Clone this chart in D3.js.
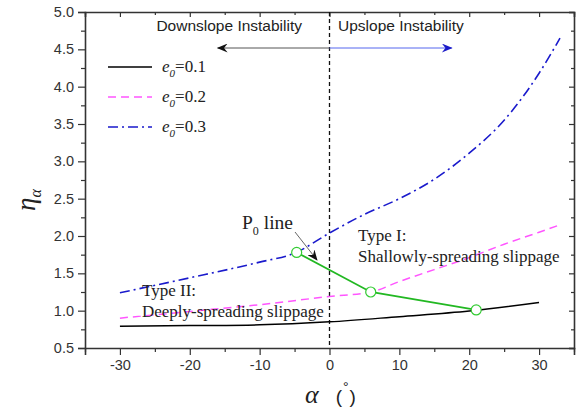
<!DOCTYPE html>
<html>
<head>
<meta charset="utf-8">
<script src="https://cdn.jsdelivr.net/npm/d3@7"></script>
<style>
  body { margin: 0; background: #fff; }
  svg { display: block; }
  .tick text { font-family: "Liberation Sans", Arial, sans-serif; font-size: 14.5px; fill: #333; }
</style>
</head>
<body>
<div id="chart"></div>
<script>
var width = 581;
var height = 411;
var margin = {top: 12, right: 7, bottom: 63, left: 85};

// curves
var alphaE01 = [-30, -20, -10, 0, 10, 20, 30];
var etaE01 = [0.79, 0.80, 0.81, 0.85, 0.92, 0.995, 1.11];

var alphaE02 = [-30, -20, -10, 0, 6, 10, 15, 20, 25, 30, 33];
var etaE02 = [0.90, 0.99, 1.08, 1.19, 1.25, 1.39, 1.55, 1.71, 1.89, 2.05, 2.15];

var alphaE03 = [-30, -20, -10, -5, 0, 5, 10, 15, 20, 25, 30, 33];
var etaE03 = [1.24, 1.44, 1.65, 1.77, 2.04, 2.29, 2.50, 2.76, 3.11, 3.55, 4.18, 4.65];

// P0 line
var alphaP0 = [-4.7, 5.9, 21];
var etaP0 = [1.78, 1.25, 1.01];

var xTicks = [-30, -20, -10, 0, 10, 20, 30];
var yTicks = [0.5, 1.0, 1.5, 2.0, 2.5, 3.0, 3.5, 4.0, 4.5, 5.0];

var legendLabels = ["0.1", "0.2", "0.3"];

var svg = d3.select("#chart").append("svg")
  .attr("width", width)
  .attr("height", height);

var x = d3.scaleLinear().domain([-35, 35]).range([margin.left, width - margin.right]);
var y = d3.scaleLinear().domain([0.5, 5.0]).range([height - margin.bottom, margin.top]);

var x0 = x.range()[0], x1 = x.range()[1];
var y0 = y.range()[0], y1 = y.range()[1];

var serif = "'Liberation Serif', 'Times New Roman', serif";
var sans = "'Liberation Sans', Arial, sans-serif";

// axes - major ticks out on bottom/left, in on top/right
var xMinor = d3.range(-35, 36, 5).filter(function(d) { return d % 10 != 0; });
var yMinor = d3.range(0.75, 5.0, 0.5);

svg.append("g").attr("transform", "translate(0," + y0 + ")")
  .call(d3.axisBottom(x).tickValues(xTicks).tickFormat(function(d) { return String(d); }).tickSize(7).tickPadding(5));
svg.append("g").attr("transform", "translate(0," + y0 + ")")
  .call(d3.axisBottom(x).tickValues(xMinor).tickFormat("").tickSize(4))
  .select(".domain").remove();

svg.append("g").attr("transform", "translate(" + x0 + ",0)")
  .call(d3.axisLeft(y).tickValues(yTicks).tickFormat(d3.format(".1f")).tickSize(7).tickPadding(4));
svg.append("g").attr("transform", "translate(" + x0 + ",0)")
  .call(d3.axisLeft(y).tickValues(yMinor).tickFormat("").tickSize(4))
  .select(".domain").remove();

svg.append("g").attr("transform", "translate(0," + y1 + ")")
  .call(d3.axisBottom(x).tickValues(xTicks).tickFormat("").tickSize(5));
svg.append("g").attr("transform", "translate(0," + y1 + ")")
  .call(d3.axisBottom(x).tickValues(xMinor).tickFormat("").tickSize(3))
  .select(".domain").remove();

svg.append("g").attr("transform", "translate(" + x1 + ",0)")
  .call(d3.axisLeft(y).tickValues(yTicks).tickFormat("").tickSize(5));
svg.append("g").attr("transform", "translate(" + x1 + ",0)")
  .call(d3.axisLeft(y).tickValues(yMinor).tickFormat("").tickSize(3))
  .select(".domain").remove();

svg.selectAll(".domain").attr("stroke", "#333").attr("stroke-width", 1.6);
svg.selectAll(".tick line").attr("stroke", "#333").attr("stroke-width", 1.2);

// vertical dashed line at 0
svg.append("line")
  .attr("x1", x(0)).attr("x2", x(0))
  .attr("y1", y1).attr("y2", y0)
  .attr("stroke", "#111").attr("stroke-width", 1.3)
  .attr("stroke-dasharray", "4,3");

// arrows
var defs = svg.append("defs");
function arrowHead(id, color) {
  defs.append("marker")
    .attr("id", id)
    .attr("viewBox", "0 0 12 10")
    .attr("refX", 11).attr("refY", 5)
    .attr("markerWidth", 12).attr("markerHeight", 9)
    .attr("markerUnits", "userSpaceOnUse")
    .attr("orient", "auto")
    .append("path")
    .attr("d", "M0,0 L12,5 L0,10 L4,5 Z")
    .attr("fill", color);
}
arrowHead("headBlack", "#111");
arrowHead("headBlue", "#1a1ac8");
arrowHead("headSmall", "#111");

var arrowY = 48;
svg.append("line")
  .attr("x1", x(0)).attr("x2", x(-16))
  .attr("y1", arrowY).attr("y2", arrowY)
  .attr("stroke", "#555").attr("stroke-width", 1)
  .attr("marker-end", "url(#headBlack)");
svg.append("line")
  .attr("x1", x(0)).attr("x2", x(17.5))
  .attr("y1", arrowY).attr("y2", arrowY)
  .attr("stroke", "#5566ee").attr("stroke-width", 1)
  .attr("marker-end", "url(#headBlue)");

svg.append("text")
  .attr("x", 302).attr("y", 31)
  .attr("text-anchor", "end")
  .attr("font-family", sans).attr("font-size", 15.5).attr("fill", "#222")
  .text("Downslope Instability");
svg.append("text")
  .attr("x", 338).attr("y", 31)
  .attr("font-family", sans).attr("font-size", 15.5).attr("fill", "#222")
  .text("Upslope Instability");

// curves
var series = [
  {alpha: alphaE01, eta: etaE01, color: "#000000", dash: null, width: 1.5},
  {alpha: alphaE02, eta: etaE02, color: "#ff55ff", dash: "8,5", width: 1.5},
  {alpha: alphaE03, eta: etaE03, color: "#1a1acc", dash: "10,4,2,4", width: 1.6}
];

var line = d3.line()
  .x(function(d) { return x(d[0]); })
  .y(function(d) { return y(d[1]); })
  .curve(d3.curveMonotoneX);

series.forEach(function(s) {
  svg.append("path")
    .datum(d3.zip(s.alpha, s.eta))
    .attr("d", line)
    .attr("fill", "none")
    .attr("stroke", s.color)
    .attr("stroke-width", s.width)
    .attr("stroke-dasharray", s.dash);
});

// P0 line
var p0 = d3.zip(alphaP0, etaP0);
svg.append("path")
  .datum(p0)
  .attr("d", d3.line().x(function(d) { return x(d[0]); }).y(function(d) { return y(d[1]); }))
  .attr("fill", "none")
  .attr("stroke", "#22b822")
  .attr("stroke-width", 1.8);
svg.selectAll("circle.p0")
  .data(p0)
  .enter().append("circle")
  .attr("class", "p0")
  .attr("cx", function(d) { return x(d[0]); })
  .attr("cy", function(d) { return y(d[1]); })
  .attr("r", 5)
  .attr("fill", "#fff")
  .attr("stroke", "#33cc33")
  .attr("stroke-width", 1.2);

// legend
var legend = svg.append("g");
series.forEach(function(s, i) {
  var ly = 67 + i * 30;
  legend.append("line")
    .attr("x1", 108).attr("x2", 152)
    .attr("y1", ly).attr("y2", ly)
    .attr("stroke", s.color)
    .attr("stroke-width", s.width)
    .attr("stroke-dasharray", s.dash);
  var t = legend.append("text")
    .attr("x", 162).attr("y", ly + 5)
    .attr("font-family", serif).attr("font-size", 17).attr("fill", "#222");
  t.append("tspan").attr("font-style", "italic").text("e");
  t.append("tspan").attr("font-style", "italic").attr("font-size", 11).attr("dy", 5).text("0");
  t.append("tspan").attr("dy", -5).text("=" + legendLabels[i]);
});

// annotations
var p0Label = svg.append("text")
  .attr("x", 242).attr("y", 229)
  .attr("font-family", serif).attr("font-size", 19.5).attr("fill", "#222");
p0Label.append("tspan").text("P");
p0Label.append("tspan").attr("font-size", 12).attr("dy", 6).text("0");
p0Label.append("tspan").attr("dy", -6).text(" line");

svg.append("line")
  .attr("x1", 295).attr("y1", 232)
  .attr("x2", 317).attr("y2", 260)
  .attr("stroke", "#666").attr("stroke-width", 1)
  .attr("marker-end", "url(#headSmall)");

function note(xp, yp, lines) {
  var t = svg.append("text")
    .attr("font-family", serif).attr("font-size", 17).attr("fill", "#222");
  lines.forEach(function(l, i) {
    t.append("tspan").attr("x", xp).attr("y", yp + i * 20.5).text(l);
  });
}
note(358, 241, ["Type I:", "Shallowly-spreading slippage"]);
note(142, 296, ["Type II:", "Deeply-spreading slippage"]);

// axis titles
var xt = svg.append("text")
  .attr("x", 305).attr("y", 403)
  .attr("font-family", serif).attr("font-size", 26).attr("fill", "#222");
xt.append("tspan").attr("font-style", "italic").text("α");
xt.append("tspan").attr("font-family", sans).attr("font-size", 19).attr("dx", 17).text("(");
xt.append("tspan").attr("font-family", sans).attr("font-size", 14).attr("dy", -11).attr("dx", 1).text("°");
xt.append("tspan").attr("font-family", sans).attr("font-size", 19).attr("dy", 11).attr("dx", 1).text(")");

var yt = svg.append("text")
  .attr("transform", "translate(35,200) rotate(-90)")
  .attr("text-anchor", "middle")
  .attr("font-family", serif).attr("font-size", 27).attr("fill", "#222");
yt.append("tspan").attr("font-style", "italic").text("η");
yt.append("tspan").attr("font-style", "italic").attr("font-size", 16).attr("dy", 6).text("α");
</script>
</body>
</html>
